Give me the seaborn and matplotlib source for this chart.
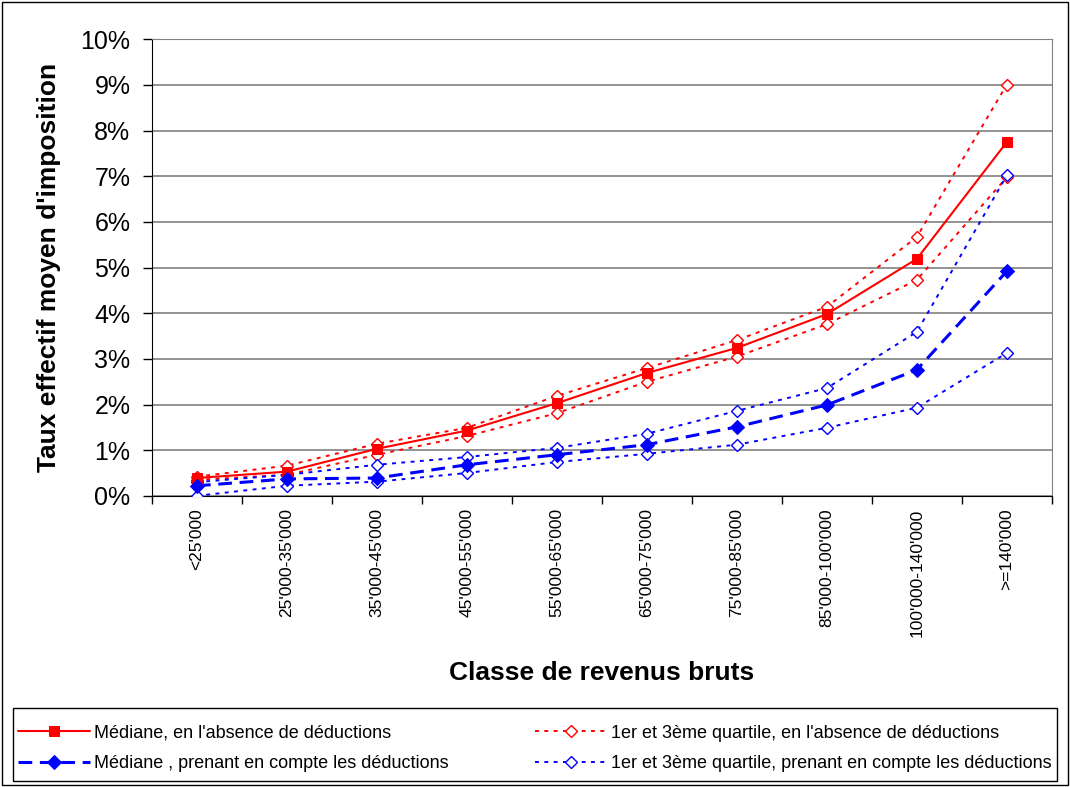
import numpy as np
import matplotlib
matplotlib.use('Agg')
import matplotlib.pyplot as plt
import seaborn as sns
from matplotlib.patches import Rectangle
from matplotlib.ticker import FixedLocator, PercentFormatter

# données (%)
classes = ["<25'000", "25'000-35'000", "35'000-45'000", "45'000-55'000", "55'000-65'000",
           "65'000-75'000", "75'000-85'000", "85'000-100'000", "100'000-140'000", ">=140'000"]
med_sans = [0.39, 0.53, 1.03, 1.43, 2.03, 2.69, 3.24, 3.98, 5.19, 7.75]
q3_sans = [0.42, 0.66, 1.14, 1.49, 2.19, 2.80, 3.41, 4.14, 5.67, 9.01]
q1_sans = [0.35, 0.46, 0.90, 1.31, 1.81, 2.50, 3.05, 3.76, 4.73, 6.98]
med_avec = [0.22, 0.37, 0.39, 0.68, 0.90, 1.12, 1.51, 1.99, 2.76, 4.92]
q3_avec = [0.30, 0.46, 0.68, 0.85, 1.05, 1.36, 1.86, 2.36, 3.59, 7.02]
q1_avec = [0.00, 0.22, 0.31, 0.50, 0.74, 0.92, 1.12, 1.49, 1.93, 3.13]

lbl_med_sans = "Médiane, en l'absence de déductions"
lbl_q_sans = "1er et 3ème quartile, en l'absence de déductions"
lbl_med_avec = "Médiane , prenant en compte les déductions"
lbl_q_avec = "1er et 3ème quartile, prenant en compte les déductions"

sns.set_style('white')
plt.rcParams['font.family'] = ['Liberation Sans', 'DejaVu Sans']
for k in ['text.color', 'axes.labelcolor', 'xtick.color', 'ytick.color']:
    plt.rcParams[k] = 'black'

fig = plt.figure(figsize=(10.7, 7.87), dpi=100)
ax = fig.add_axes([0.142, 0.370, 0.841, 0.580])

pos = np.arange(len(classes))
RED = '#ff0000'
BLUE = '#0000ff'

# quartiles (pointillés, losanges vides)
for vals, col, lab in [(q3_sans, RED, lbl_q_sans), (q1_sans, RED, '_nolegend_'),
                       (q3_avec, BLUE, lbl_q_avec), (q1_avec, BLUE, '_nolegend_')]:
    sns.lineplot(x=pos, y=vals, ax=ax, color=col, lw=1.4, marker='D',
                 markersize=6.5, markerfacecolor='white', markeredgecolor=col,
                 markeredgewidth=1, label=lab, zorder=3)
    ax.lines[-1].set_dashes((2, 2.8))

# médianes
sns.lineplot(x=pos, y=med_sans, ax=ax, color=RED, lw=1.5, marker='s',
             markersize=7, markeredgecolor=RED, label=lbl_med_sans, zorder=4)
sns.lineplot(x=pos, y=med_avec, ax=ax, color=BLUE, lw=2.2, marker='D',
             markersize=7, markeredgecolor=BLUE, label=lbl_med_avec, zorder=4)
ax.lines[-1].set_dashes((4.5, 2.5))

ax.set_xlim(-0.5, len(classes) - 0.5)
ax.set_ylim(0, 10)
ax.yaxis.set_major_locator(FixedLocator(np.arange(0, 11, 1)))
ax.yaxis.set_major_formatter(PercentFormatter(decimals=0))
ax.grid(axis='y', color='#808080', lw=1.2)
ax.set_axisbelow(True)

ax.set_xticks(pos)
ax.set_xticklabels(classes, rotation=90, fontsize=12.5, va='top')
ax.set_xticks(np.arange(-0.5, len(classes), 1), minor=True)
ax.tick_params(axis='x', which='major', length=0, pad=9)
ax.tick_params(axis='x', which='minor', length=5.5, width=1, direction='out', bottom=True)
ax.tick_params(axis='y', length=6.5, width=1, direction='out', left=True, labelsize=18, pad=9)

for side in ['left', 'bottom']:
    ax.spines[side].set_color('black')
for side in ['top', 'right']:
    ax.spines[side].set_color('#808080')

ax.set_ylabel("Taux effectif moyen d'imposition", fontsize=19, fontweight='bold')
ax.yaxis.set_label_coords(-0.101, 0.5)
ax.set_xlabel('Classe de revenus bruts', fontsize=19, fontweight='bold')
ax.xaxis.set_label_coords(0.5, -0.362)

h, l = ax.get_legend_handles_labels()
d = dict(zip(l, h))
order = [lbl_med_sans, lbl_med_avec, lbl_q_sans, lbl_q_avec]
ax.legend().remove()
fig.legend([d[k] for k in order], order, ncol=2, loc='center left',
           bbox_to_anchor=(0.012, 0.0025, 0.976, 0.0928), mode='expand',
           fontsize=13, frameon=False, handlelength=4, handletextpad=0.2,
           borderpad=0.3, borderaxespad=0, labelspacing=0.75)

# cadre de la légende et cadre extérieur
fig.patches.append(Rectangle((0.0121, 0.0076), 0.9757, 0.0928, transform=fig.transFigure,
                             fill=False, edgecolor='black', lw=1))
fig.patches.append(Rectangle((0.002, 0.002), 0.996, 0.996, transform=fig.transFigure,
                             fill=False, edgecolor='black', lw=1))

fig.savefig('out.png', dpi=100)
